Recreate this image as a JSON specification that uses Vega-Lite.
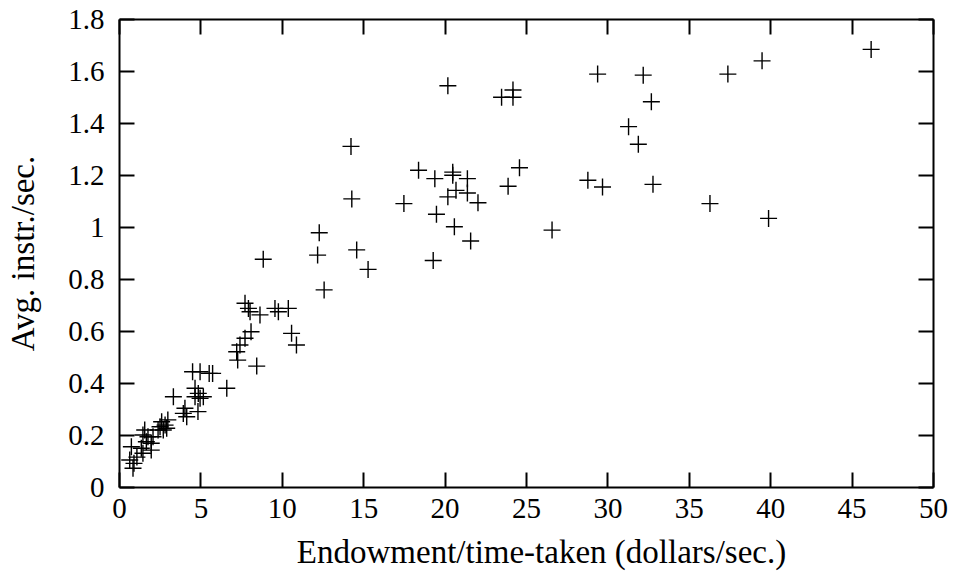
{
  "$schema": "https://vega.github.io/schema/vega-lite/v6.json",
  "width": 814,
  "height": 468,
  "autosize": {"type": "none"},
  "padding": {"left": 119, "top": 19, "right": 20, "bottom": 86},
  "background": "white",
  "config": {
    "view": {"stroke": null},
    "axis": {
      "grid": false,
      "domainColor": "black",
      "domainWidth": 2,
      "tickColor": "black",
      "tickWidth": 2,
      "tickSize": -15,
      "labelFont": "Liberation Serif",
      "labelFontSize": 29,
      "labelColor": "black",
      "labelFlush": false,
      "labelOverlap": false,
      "titleFont": "Liberation Serif",
      "titleFontSize": 33,
      "titleFontWeight": "normal",
      "titleColor": "black"
    }
  },
  "data": {
    "values": [
      {"x": 46.2, "y": 1.683}, {"x": 39.5, "y": 1.639}, {"x": 37.4, "y": 1.588}, {"x": 32.2, "y": 1.584},
      {"x": 29.4, "y": 1.588}, {"x": 32.7, "y": 1.482}, {"x": 31.3, "y": 1.386}, {"x": 31.9, "y": 1.318},
      {"x": 28.8, "y": 1.18}, {"x": 29.7, "y": 1.154}, {"x": 32.8, "y": 1.164}, {"x": 36.3, "y": 1.09},
      {"x": 39.9, "y": 1.033}, {"x": 26.6, "y": 0.988}, {"x": 24.6, "y": 1.228}, {"x": 23.9, "y": 1.157},
      {"x": 23.5, "y": 1.499}, {"x": 24.2, "y": 1.527}, {"x": 24.2, "y": 1.499}, {"x": 20.2, "y": 1.543},
      {"x": 14.25, "y": 1.31}, {"x": 18.4, "y": 1.218}, {"x": 19.4, "y": 1.186}, {"x": 20.5, "y": 1.211},
      {"x": 20.5, "y": 1.199}, {"x": 21.4, "y": 1.186}, {"x": 20.7, "y": 1.141}, {"x": 21.4, "y": 1.131},
      {"x": 20.2, "y": 1.116}, {"x": 22.05, "y": 1.093}, {"x": 17.5, "y": 1.09}, {"x": 14.3, "y": 1.108},
      {"x": 19.5, "y": 1.049}, {"x": 20.6, "y": 1.001}, {"x": 21.6, "y": 0.946}, {"x": 19.3, "y": 0.871},
      {"x": 14.6, "y": 0.912}, {"x": 15.3, "y": 0.837}, {"x": 12.3, "y": 0.978}, {"x": 12.2, "y": 0.892},
      {"x": 8.86, "y": 0.876}, {"x": 12.6, "y": 0.758}, {"x": 7.74, "y": 0.707}, {"x": 7.95, "y": 0.687},
      {"x": 8.05, "y": 0.674}, {"x": 8.66, "y": 0.662}, {"x": 9.58, "y": 0.687}, {"x": 9.79, "y": 0.674},
      {"x": 10.4, "y": 0.687}, {"x": 8.11, "y": 0.597}, {"x": 7.74, "y": 0.572}, {"x": 7.43, "y": 0.546},
      {"x": 7.23, "y": 0.52}, {"x": 7.29, "y": 0.488}, {"x": 8.46, "y": 0.465}, {"x": 10.6, "y": 0.591},
      {"x": 10.9, "y": 0.546}, {"x": 4.52, "y": 0.443}, {"x": 4.98, "y": 0.443}, {"x": 5.54, "y": 0.437},
      {"x": 5.75, "y": 0.437}, {"x": 6.62, "y": 0.38}, {"x": 3.34, "y": 0.347}, {"x": 4.67, "y": 0.38},
      {"x": 4.87, "y": 0.36}, {"x": 4.67, "y": 0.347}, {"x": 4.98, "y": 0.341}, {"x": 5.18, "y": 0.347},
      {"x": 4.85, "y": 0.29}, {"x": 4.05, "y": 0.303}, {"x": 3.95, "y": 0.283}, {"x": 4.16, "y": 0.27},
      {"x": 2.62, "y": 0.251}, {"x": 2.83, "y": 0.238}, {"x": 2.52, "y": 0.232}, {"x": 2.93, "y": 0.226},
      {"x": 2.72, "y": 0.219}, {"x": 3.0, "y": 0.258}, {"x": 2.4, "y": 0.219}, {"x": 1.58, "y": 0.219},
      {"x": 2.09, "y": 0.193}, {"x": 1.78, "y": 0.193}, {"x": 1.47, "y": 0.2}, {"x": 1.68, "y": 0.174},
      {"x": 1.98, "y": 0.168}, {"x": 1.98, "y": 0.142}, {"x": 1.37, "y": 0.149}, {"x": 1.47, "y": 0.13},
      {"x": 0.76, "y": 0.155}, {"x": 0.92, "y": 0.091}, {"x": 0.66, "y": 0.104}, {"x": 0.86, "y": 0.072},
      {"x": 1.1, "y": 0.115}
    ]
  },
  "encoding": {
    "x": {"field": "x", "type": "quantitative", "scale": {"domain": [0, 50], "nice": false, "zero": false}},
    "y": {"field": "y", "type": "quantitative", "scale": {"domain": [0, 1.8], "nice": false, "zero": false}}
  },
  "layer": [
    {
      "mark": {"type": "point", "shape": "M-1,0L1,0M0,-1L0,1", "size": 289, "filled": false, "stroke": "black", "strokeWidth": 1.4, "opacity": 1},
      "encoding": {
        "x": {"field": "x", "type": "quantitative", "axis": {"orient": "bottom", "values": [0,5,10,15,20,25,30,35,40,45,50], "labelPadding": 22, "title": "Endowment/time-taken (dollars/sec.)", "titlePadding": 13, "titleX": 422}},
        "y": {"field": "y", "type": "quantitative", "axis": {"orient": "left", "values": [0,0.2,0.4,0.6,0.8,1,1.2,1.4,1.6,1.8], "format": "~g", "labelPadding": 30, "title": "Avg. instr./sec.", "titlePadding": 27}}
      }
    },
    {
      "mark": {"type": "point", "shape": "M-1,0L1,0M0,-1L0,1", "size": 289, "filled": false, "opacity": 0},
      "encoding": {
        "x": {"field": "x", "type": "quantitative", "axis": {"orient": "top", "values": [0,5,10,15,20,25,30,35,40,45,50], "labels": false, "title": null}},
        "y": {"field": "y", "type": "quantitative", "axis": {"orient": "right", "values": [0,0.2,0.4,0.6,0.8,1,1.2,1.4,1.6,1.8], "labels": false, "title": null}}
      }
    }
  ],
  "resolve": {"axis": {"x": "independent", "y": "independent"}}
}
